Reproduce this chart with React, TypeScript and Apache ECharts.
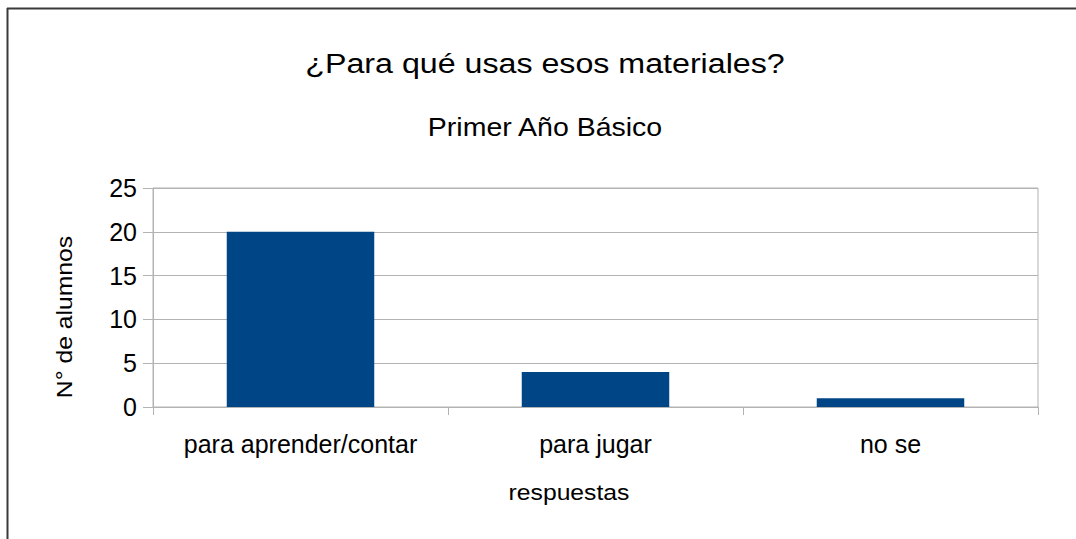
import React, { useEffect, useRef } from "react";
import * as echarts from "echarts";

const categories = ["para aprender/contar", "para jugar", "no se"];
const values = [20, 4, 1];
const titleText = "¿Para qué usas esos materiales?";
const subtitleText = "Primer Año Básico";
const yName = "N° de alumnos";
const xName = "respuestas";

export default function App() {
  const ref = useRef<HTMLDivElement>(null);
  useEffect(() => {
    const chart = echarts.init(ref.current!, null, { renderer: "svg" });
    const font = "'Liberation Sans', Arial, sans-serif";
    const txt = (text: string, size: number) => ({
      text,
      fontSize: size,
      fontFamily: font,
      fill: "#000",
      textAlign: "center",
      textVerticalAlign: "middle",
    });
    chart.setOption({
      animation: false,
      backgroundColor: "#ffffff",
      textStyle: { fontFamily: font },
      grid: {
        left: 153,
        right: 38,
        top: 188,
        bottom: 132,
        show: true,
        borderColor: "#b3b3b3",
        borderWidth: 1,
      },
      graphic: [
        { type: "line", shape: { x1: 7.5, y1: 8, x2: 7.5, y2: 539 }, style: { stroke: "#3a3a3a", lineWidth: 2 } },
        { type: "line", shape: { x1: 7, y1: 8.5, x2: 1076, y2: 8.5 }, style: { stroke: "#3a3a3a", lineWidth: 2 } },
        { type: "text", x: 545, y: 63, scaleX: 1.15, style: txt(titleText, 28) },
        { type: "text", x: 545, y: 128, scaleX: 1.14, style: txt(subtitleText, 25) },
        { type: "text", x: 569, y: 493, scaleX: 1.15, style: txt(xName, 21.5) },
        { type: "text", x: 65, y: 317, rotation: Math.PI / 2, scaleX: 1.15, style: txt(yName, 21.5) },
      ],
      xAxis: {
        type: "category",
        data: categories,
        boundaryGap: true,
        axisLine: { show: true, lineStyle: { color: "#b3b3b3", width: 1 } },
        axisTick: { show: true, length: 8, interval: 0, lineStyle: { color: "#b3b3b3" } },
        axisLabel: { color: "#000", fontSize: 25, margin: 24, interval: 0, hideOverlap: false, fontFamily: font },
        splitLine: { show: false },
      },
      yAxis: {
        type: "value",
        min: 0,
        max: 25,
        interval: 5,
        axisLine: { show: true, lineStyle: { color: "#b3b3b3", width: 1 } },
        axisTick: { show: true, length: 10, lineStyle: { color: "#b3b3b3" } },
        axisLabel: { color: "#000", fontSize: 25, margin: 16, fontFamily: font },
        splitLine: { show: true, lineStyle: { color: "#b3b3b3", width: 1 } },
      },
      series: [
        {
          type: "bar",
          data: values,
          barWidth: "50%",
          itemStyle: { color: "#004586" },
        },
      ],
    });
    return () => chart.dispose();
  }, []);
  return <div ref={ref} style={{ position: "absolute", left: 0, top: 0, width: 1076, height: 539 }} />;
}
